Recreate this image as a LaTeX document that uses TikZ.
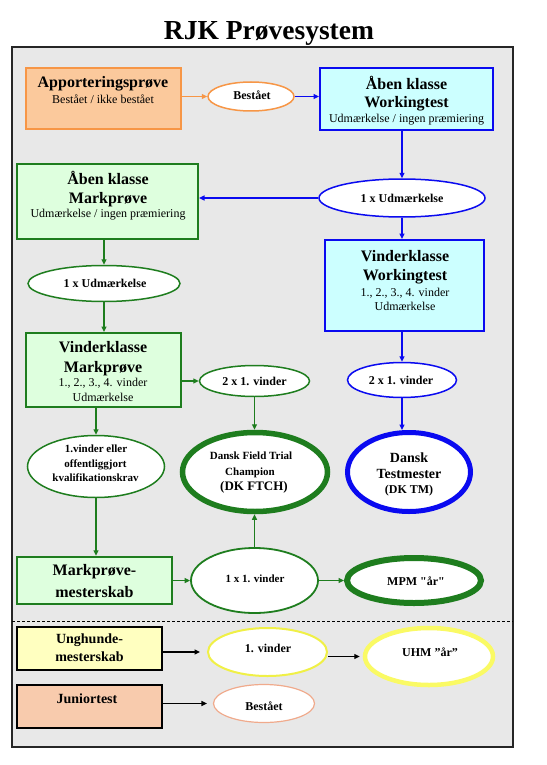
\documentclass[tikz,border=0pt]{standalone}
\usepackage{fontspec}
\setmainfont{Liberation Serif}
\usetikzlibrary{shapes.geometric,arrows.meta,calc}
\newcommand\fsz[2]{\fontsize{#1}{#2}\selectfont}
\definecolor{orangeB}{RGB}{247,150,70}
\definecolor{orangeF}{RGB}{251,201,156}
\definecolor{cyanF}{RGB}{204,255,255}
\definecolor{blueB}{RGB}{10,10,240}
\definecolor{greenF}{RGB}{222,255,222}
\definecolor{greenB}{RGB}{30,125,30}
\definecolor{yellowF}{RGB}{255,255,192}
\definecolor{yellowB}{RGB}{250,250,100}
\definecolor{yellowT}{RGB}{240,240,70}
\definecolor{peachF}{RGB}{248,203,173}
\definecolor{salmonB}{RGB}{240,170,140}
\definecolor{grayBG}{RGB}{232,232,232}
\tikzset{
  boxs/.style={rectangle, draw, line width=2pt, inner sep=0pt},
  ell/.style={ellipse, draw, fill=white, inner sep=0pt, line width=1.5pt},
  arr/.style={line width=1.3pt, -{Triangle[length=5.5pt,width=5pt]}},
  t16/.style={font=\fsz{16}{19}\bfseries, anchor=base, inner sep=0pt},
  t14/.style={font=\fsz{14}{17}\bfseries, anchor=base, inner sep=0pt},
  t12/.style={font=\fsz{12}{14}, anchor=base, inner sep=0pt},
  tb12/.style={font=\fsz{12}{14}\bfseries, anchor=base, inner sep=0pt},
  tb11/.style={font=\fsz{11}{13}\bfseries, anchor=base, inner sep=0pt},
  tb13/.style={font=\fsz{13}{15}\bfseries, anchor=base, inner sep=0pt},
}
\begin{document}
\begin{tikzpicture}[x=1pt,y=-1pt]
\useasboundingbox (0,0) rectangle (546,765);
% title
\node[font=\fsz{27.5}{32}\bfseries, anchor=base, inner sep=0pt] (title) at (269,40) {RJK Prøvesystem};
% frame
\node[rectangle, draw=black!85, fill=grayBG, line width=1.3pt, inner sep=0pt,
      minimum width=501pt, minimum height=700pt] (frame) at (262.5,397) {};
\coordinate (dl) at (12,621);
\coordinate (dr) at (513,621);
\draw[line width=0.9pt, dash pattern=on 3pt off 2pt] (dl) -- (dr);

% ---- boxes
\node[boxs, draw=orangeB, fill=orangeF, minimum width=155pt, minimum height=61pt] (ap) at (103.5,98.5) {};
\node[t16] (ap1) at (103,88) {Apporteringsprøve};
\node[t12] (ap2) at (103,103) {Bestået / ikke bestået};

\node[boxs, draw=blueB, fill=cyanF, minimum width=173pt, minimum height=62pt] (wt) at (406.5,99) {};
\node[t16] (wt1) at (406.5,90) {Åben klasse};
\node[t16] (wt2) at (406.5,108) {Workingtest};
\node[t12] (wt3) at (406.5,123) {Udmærkelse / ingen præmiering};

\node[boxs, draw=greenB, fill=greenF, minimum width=181pt, minimum height=75pt] (amp) at (107.5,201.5) {};
\node[t16] (amp1) at (108,184) {Åben klasse};
\node[t16] (amp2) at (108,203) {Markprøve};
\node[t12] (amp3) at (108,217) {Udmærkelse / ingen præmiering};

\node[boxs, draw=blueB, fill=cyanF, minimum width=159pt, minimum height=91pt] (vwt) at (404.5,285.5) {};
\node[t16] (vwt1) at (405,261) {Vinderklasse};
\node[t16] (vwt2) at (405,280) {Workingtest};
\node[t12] (vwt3) at (405,296) {1., 2., 3., 4. vinder};
\node[t12] (vwt4) at (405,310) {Udmærkelse};

\node[boxs, draw=greenB, fill=greenF, minimum width=155pt, minimum height=74pt] (vmp) at (103.5,370) {};
\node[t16] (vmp1) at (103,352) {Vinderklasse};
\node[t16] (vmp2) at (103,372) {Markprøve};
\node[t12] (vmp3) at (103,386) {1., 2., 3., 4. vinder};
\node[t12] (vmp4) at (103,401) {Udmærkelse};

\node[boxs, draw=greenB, fill=greenF, line width=2.5pt, minimum width=155pt, minimum height=47pt] (mpm) at (94.5,580.5) {};
\node[t16] (mpm1) at (94.5,575) {Markprøve-};
\node[t16] (mpm2) at (94.5,597) {mesterskab};

\node[boxs, draw=black, fill=yellowF, minimum width=145pt, minimum height=43pt] (uh) at (89.5,648.5) {};
\node[t14] (uh1) at (89.5,643) {Unghunde-};
\node[t14] (uh2) at (89.5,661) {mesterskab};

\node[boxs, draw=black, fill=peachF, minimum width=145pt, minimum height=43pt] (jt) at (89.5,706.5) {};
\node[t14] (jt1) at (87,703) {Juniortest};

% ---- ellipses
\node[ell, draw=orangeB, minimum width=86pt, minimum height=29pt] (e1) at (251,96.5) {};
\node[tb12] (e1t) at (252,100) {Bestået};

\node[ell, draw=blueB, minimum width=166pt, minimum height=38pt] (e2) at (402,198) {};
\node[tb12] (e2t) at (402,202) {1 x Udmærkelse};

\node[ell, draw=greenB, minimum width=152pt, minimum height=36pt] (e3) at (104,283.5) {};
\node[tb12] (e3t) at (105,287.5) {1 x Udmærkelse};

\node[ell, draw=greenB, minimum width=110pt, minimum height=31pt] (e4) at (254.5,381) {};
\node[tb12] (e4t) at (254.5,385) {2 x 1. vinder};

\node[ell, draw=blueB, minimum width=109pt, minimum height=35pt] (e5) at (402,380) {};
\node[tb12] (e5t) at (401,384) {2 x 1. vinder};

\node[ell, draw=greenB, line width=5.5pt, minimum width=145pt, minimum height=79pt] (e6) at (255,472) {};
\node[tb11] (e6a) at (251,459) {Dansk Field Trial};
\node[tb11] (e6b) at (250,475) {Champion};
\node[tb13] (e6c) at (254,490) {(DK FTCH)};

\node[ell, draw=blueB, line width=5pt, minimum width=123pt, minimum height=79pt] (e7) at (409,472) {};
\node[font=\fsz{14}{16}\bfseries, anchor=base, inner sep=0pt] (e7a) at (409,462) {Dansk};
\node[font=\fsz{14}{16}\bfseries, anchor=base, inner sep=0pt] (e7b) at (409,478) {Testmester};
\node[tb12] (e7c) at (409,493) {(DK TM)};

\node[ell, draw=greenB, minimum width=137pt, minimum height=62pt] (e8) at (96,466.5) {};
\node[tb11] (e8a) at (96,452) {1.vinder eller};
\node[tb11] (e8b) at (95.5,467) {offentliggjort};
\node[tb11] (e8c) at (95.5,481) {kvalifikationskrav};

\node[ell, draw=greenB, line width=1.8pt, minimum width=127pt, minimum height=65pt] (e9) at (254.5,580.5) {};
\node[tb11] (e9t) at (255,582) {1 x 1. vinder};

\node[ell, draw=greenB, line width=6pt, minimum width=134pt, minimum height=45pt] (e10) at (414,580.5) {};
\node[tb12] (e10t) at (416,585) {\addfontfeatures{Ligatures=TeXOff}MPM "år"};

\node[ell, draw=yellowT, line width=2pt, minimum width=119pt, minimum height=48pt] (e11) at (267.5,652) {};
\node[tb12] (e11t) at (268,652) {1. vinder};

\node[ell, draw=yellowB, line width=4.5pt, minimum width=128pt, minimum height=57pt] (e12) at (429,656.5) {};
\node[tb12] (e12t) at (430,656) {UHM ”år”};

\node[ell, draw=salmonB, line width=1.2pt, minimum width=101pt, minimum height=38pt] (e13) at (264,703.5) {};
\node[tb12] (e13t) at (264,710) {Bestået};

% ---- connectors
\draw[arr, draw=orangeB] (e1.west -| ap.east) -- (e1.west);
\draw[arr, draw=blueB] (e1.east) -- (e1.east -| wt.west);
\draw[arr, draw=blueB] (wt.south -| e2.north) -- (e2.north);
\draw[arr, draw=blueB] (e2.west) -- (e2.west -| amp.east);
\draw[arr, draw=blueB] (e2.south) -- (e2.south |- vwt.north);
\draw[arr, draw=greenB] (amp.south -| e3.north) -- (e3.north);
\draw[arr, draw=greenB] (e3.south) -- (e3.south |- vmp.north);
\draw[arr, draw=greenB] (e4.west -| vmp.east) -- (e4.west);
\draw[arr, draw=greenB] (e4.south) -- (e4.south |- e6.north);
\draw[arr, draw=blueB] (vwt.south -| e5.north) -- (e5.north);
\draw[arr, draw=blueB] (e5.south) -- (e5.south |- e7.north);
\draw[arr, draw=greenB] (vmp.south -| e8.north) -- (e8.north);
\draw[arr, draw=greenB] (e8.south) -- (e8.south |- mpm.north);
\draw[arr, draw=greenB] (e9.west -| mpm.east) -- (e9.west);
\draw[arr, draw=greenB] (e9.north) -- (e9.north |- e6.south);
\draw[arr, draw=greenB] (e9.east) -- (e9.east -| e10.west);
\draw[arr, draw=black, shorten >=7pt] (e11.west -| uh.east) -- (e11.west);
\draw[arr, draw=black, shorten >=3pt] (e12.west -| e11.east) -- (e12.west);
\draw[arr, draw=black, shorten >=6pt] (e13.west -| jt.east) -- (e13.west);
\end{tikzpicture}
\end{document}
